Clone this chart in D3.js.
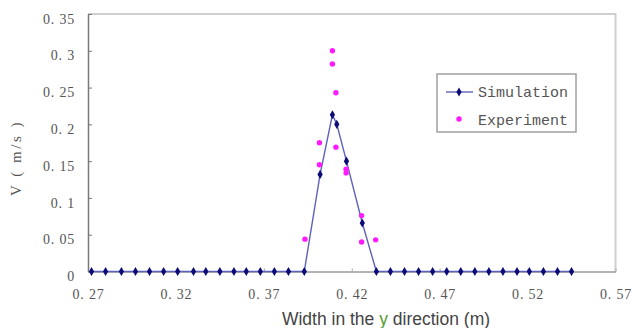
<!DOCTYPE html>
<html>
<head>
<meta charset="utf-8">
<script src="https://cdn.jsdelivr.net/npm/d3@7"></script>
<style>
  body { margin: 0; background: #fff; }
  svg { display: block; }
  .tick text { font-family: "Liberation Serif", "DejaVu Serif", serif; font-size: 14px; fill: #555; }
</style>
</head>
<body>
<div id="chart"></div>
<script>
// simulation: width (m) and velocity (m/s)
var simX = [0.272, 0.280, 0.289, 0.297, 0.305, 0.313, 0.321, 0.330, 0.337, 0.345, 0.353, 0.360,
  0.368, 0.376, 0.384, 0.393, 0.402, 0.409, 0.4115, 0.417, 0.426, 0.434, 0.442, 0.450, 0.458,
  0.466, 0.474, 0.482, 0.490, 0.498, 0.506, 0.514, 0.521, 0.529, 0.537, 0.545];
var simV = [0, 0, 0, 0, 0, 0, 0, 0, 0, 0, 0, 0,
  0, 0, 0, 0, 0.132, 0.213, 0.200, 0.150, 0.066, 0, 0, 0, 0,
  0, 0, 0, 0, 0, 0, 0, 0, 0, 0, 0];

// experiment
var expX = [0.409, 0.409, 0.411, 0.4016, 0.4016, 0.411, 0.4168, 0.4168, 0.4256, 0.4256, 0.4336, 0.3934];
var expV = [0.300, 0.282, 0.243, 0.175, 0.145, 0.169, 0.139, 0.134, 0.076, 0.040, 0.043, 0.044];

var xTicks = [0.27, 0.32, 0.37, 0.42, 0.47, 0.52, 0.57];
var xTickLabels = ["0. 27", "0. 32", "0. 37", "0. 42", "0. 47", "0. 52", "0. 57"];
var yTicks = [0, 0.05, 0.1, 0.15, 0.2, 0.25, 0.3, 0.35];
var yTickLabels = ["0", "0. 05", "0. 1", "0. 15", "0. 2", "0. 25", "0. 3", "0. 35"];

var width = 636, height = 328;
var plot = { left: 88, right: 615.5, top: 14, bottom: 271.5 };

var svg = d3.select("#chart").append("svg")
  .attr("width", width)
  .attr("height", height);

var xScale = d3.scaleLinear().domain([0.27, 0.57]).range([plot.left, plot.right]);
var yScale = d3.scaleLinear().domain([0, 0.35]).range([plot.bottom, plot.top]);

// frame (top + right, light)
svg.append("path")
  .attr("d", "M" + plot.left + "," + plot.top + "H" + plot.right + "V" + plot.bottom)
  .attr("fill", "none")
  .attr("stroke", "#cfcfcf")
  .attr("stroke-width", 2);

// x axis
var xAxis = svg.append("g")
  .attr("transform", "translate(0," + plot.bottom + ")")
  .call(d3.axisBottom(xScale)
    .tickValues(xTicks)
    .tickSizeInner(-3)
    .tickSizeOuter(0)
    .tickPadding(18)
    .tickFormat(function (d, i) { return xTickLabels[i]; }));
xAxis.select(".domain").attr("stroke", "#9a9a9a").attr("stroke-width", 1.5);
xAxis.selectAll(".tick line").attr("stroke", "#aaa");
xAxis.selectAll(".tick text").attr("letter-spacing", "0.8");

// y axis
var yAxis = svg.append("g")
  .attr("transform", "translate(" + plot.left + ",0)")
  .call(d3.axisLeft(yScale)
    .tickValues(yTicks)
    .tickSizeInner(-4)
    .tickSizeOuter(0)
    .tickPadding(13)
    .tickFormat(function (d, i) { return yTickLabels[i]; }));
yAxis.select(".domain").attr("stroke", "#7a7a7a").attr("stroke-width", 1.5);
yAxis.selectAll(".tick line").attr("stroke", "#777");
yAxis.selectAll(".tick text").attr("dy", "0.65em").attr("letter-spacing", "0.8");

// simulation line
var simData = simX.map(function (x, i) { return [x, simV[i]]; });
var line = d3.line()
  .x(function (d) { return xScale(d[0]); })
  .y(function (d) { return yScale(d[1]); });

svg.append("path")
  .datum(simData)
  .attr("d", line)
  .attr("fill", "none")
  .attr("stroke", "#5e63b8")
  .attr("stroke-width", 1.4);

var diamond = d3.symbol().type(d3.symbolDiamond).size(24);
svg.selectAll(".sim")
  .data(simData)
  .enter().append("path")
  .attr("class", "sim")
  .attr("d", diamond)
  .attr("transform", function (d) { return "translate(" + xScale(d[0]) + "," + yScale(d[1]) + ")"; })
  .attr("fill", "#0c0c78");

// experiment points
var expData = expX.map(function (x, i) { return [x, expV[i]]; });
svg.selectAll(".exp")
  .data(expData)
  .enter().append("circle")
  .attr("class", "exp")
  .attr("cx", function (d) { return xScale(d[0]); })
  .attr("cy", function (d) { return yScale(d[1]); })
  .attr("r", 2.7)
  .attr("fill", "#ff1aff");

// legend
var legend = svg.append("g").attr("transform", "translate(437,74)");
legend.append("rect")
  .attr("width", 139)
  .attr("height", 58)
  .attr("fill", "#fff")
  .attr("stroke", "#a0a0a0")
  .attr("stroke-width", 1.5);
legend.append("line")
  .attr("x1", 9).attr("x2", 36).attr("y1", 18).attr("y2", 18)
  .attr("stroke", "#5e63b8").attr("stroke-width", 1.4);
legend.append("path")
  .attr("d", diamond)
  .attr("transform", "translate(22,18)")
  .attr("fill", "#0c0c78");
legend.append("circle")
  .attr("cx", 22).attr("cy", 45).attr("r", 2.7)
  .attr("fill", "#ff1aff");
legend.selectAll(".lbl")
  .data(["Simulation", "Experiment"])
  .enter().append("text")
  .attr("x", 41)
  .attr("y", function (d, i) { return 23 + i * 28; })
  .style("font-family", "'Liberation Mono', 'DejaVu Sans Mono', monospace")
  .style("font-size", "15px")
  .style("fill", "#555")
  .text(function (d) { return d; });

// axis titles
var xTitle = svg.append("text")
  .attr("x", 386)
  .attr("y", 325)
  .attr("text-anchor", "middle")
  .style("font-family", "'Liberation Sans', Arial, sans-serif")
  .style("font-size", "17.5px")
  .style("fill", "#444");
xTitle.append("tspan").text("Width in the ");
xTitle.append("tspan").style("fill", "#5a9a32").text("y");
xTitle.append("tspan").text(" direction (m)");

svg.append("text")
  .attr("transform", "translate(21,158) rotate(-90)")
  .attr("text-anchor", "middle")
  .attr("letter-spacing", "2.5")
  .style("font-family", "'Liberation Serif', serif")
  .style("font-size", "15px")
  .style("fill", "#555")
  .text("V ( m/s )");
</script>
</body>
</html>
